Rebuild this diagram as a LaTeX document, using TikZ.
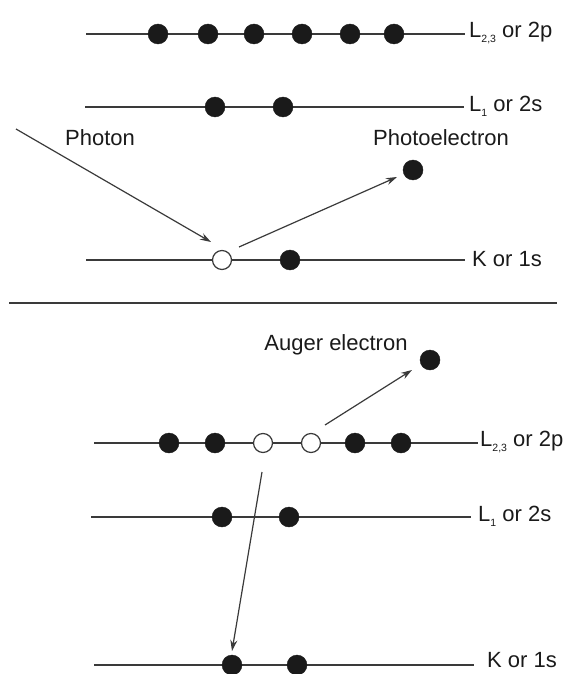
\documentclass[tikz,border=0pt]{standalone}
\usepackage{fontspec}
\setmainfont{Liberation Sans}
\usetikzlibrary{arrows.meta}
\definecolor{ink}{HTML}{1A1A1A}
\definecolor{lvl}{HTML}{3A3A3A}
\newcommand{\sublbl}[1]{\raisebox{-0.45ex}{\fontsize{10.5}{10.5}\selectfont #1}}
\begin{document}
\begin{tikzpicture}[x=1pt,y=-1pt,
  level/.style={draw=lvl,line width=1.4pt},
  elec/.style={circle,fill=ink,draw=ink,minimum size=20pt,inner sep=0pt},
  hole/.style={circle,fill=white,draw=lvl,line width=1.2pt,minimum size=19pt,inner sep=0pt},
  lbl/.style={anchor=west,inner sep=0pt,text=ink,font=\fontsize{22}{26}\selectfont},
  tag/.style={inner sep=0pt,text=ink,font=\fontsize{22}{26}\selectfont},
  arr/.style={draw=lvl,line width=1.2pt,-{Stealth[length=11pt,width=7pt]}}]
\useasboundingbox (0,0) rectangle (577,674);

% ---------- photoionisation ----------
\draw[level] (86,34) -- (465,34);
\draw[level] (85,107) -- (464,107);
\draw[level] (86,260) -- (465,260);
\foreach \x [count=\i] in {158,208,254,302,350,394}
  \node[elec] (a\i) at (\x,34) {};
\node[elec] (as1) at (215,107) {};
\node[elec] (as2) at (283,107) {};
\node[hole] (akh) at (222,260) {};
\node[elec] (ak2) at (290,260) {};
\node[elec] (pe) at (413,170) {};

\node[lbl] (ta1) at (469,33) {L\sublbl{2,3} or 2p};
\node[lbl] (ta2) at (469,106) {L\sublbl{1} or 2s};
\node[lbl] (ta3) at (472,259) {K or 1s};
\node[tag] (tph) at (100,138) {Photon};
\node[tag] (tpe) at (441,138) {Photoelectron};

\coordinate (phsrc) at (16,129);
\draw[arr] (phsrc) -- ([xshift=-11pt,yshift=18pt]akh.center);
\draw[arr] ([xshift=17pt,yshift=13pt]akh.center) -- ([xshift=-16pt,yshift=-7pt]pe.center);

% ---------- separator ----------
\draw[draw=lvl,line width=2.6pt] (9,303) -- (557,303);

% ---------- Auger emission ----------
\draw[level] (94,443) -- (478,443);
\draw[level] (91,517) -- (471,517);
\draw[level] (94,665) -- (474,665);
\node[elec] (b1) at (169,443) {};
\node[elec] (b2) at (215,443) {};
\node[hole] (bh1) at (263,443) {};
\node[hole] (bh2) at (311,443) {};
\node[elec] (b5) at (355,443) {};
\node[elec] (b6) at (401,443) {};
\node[elec] (bs1) at (222,517) {};
\node[elec] (bs2) at (289,517) {};
\node[elec] (bk1) at (232,665) {};
\node[elec] (bk2) at (297,665) {};
\node[elec] (ae) at (430,360) {};

\node[lbl] (tb1) at (480,442) {L\sublbl{2,3} or 2p};
\node[lbl] (tb2) at (478,516) {L\sublbl{1} or 2s};
\node[lbl] (tb3) at (487,660) {K or 1s};
\node[tag] (tae) at (336,345) {Auger electron};

\draw[arr] ([xshift=14pt,yshift=18pt]bh2.center) -- ([xshift=-18pt,yshift=-10pt]ae.center);
\draw[arr] ([xshift=-1pt,yshift=-29pt]bh1.center) -- ([yshift=14pt]bk1.center);
\end{tikzpicture}
\end{document}
